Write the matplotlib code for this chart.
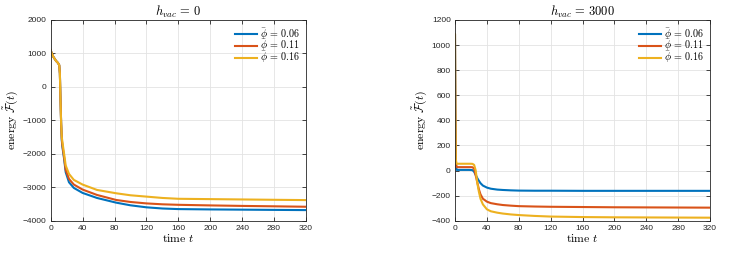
import matplotlib
matplotlib.use("Agg")
import matplotlib.pyplot as plt

plt.rcParams['mathtext.fontset'] = 'cm'
plt.rcParams['font.family'] = ['Liberation Sans', 'DejaVu Sans']

# ---- data: left panel (h_vac = 0)
t_left = [0, 1, 3.3, 6.6, 9, 10.7, 11.5, 12.3, 13.1, 13.9, 14.7, 16.8, 18.8, 22.9,
          29, 40, 58, 82, 100, 120, 140, 160, 200, 240, 280, 320]
e_left_006 = [1100, 1020, 900, 780, 720, 650, 400, -400, -1100, -1600, -1800, -2150,
              -2550, -2850, -3020, -3170, -3320, -3460, -3540, -3600, -3635, -3653,
              -3663, -3670, -3677, -3683]
e_left_011 = [1100, 1020, 900, 780, 720, 650, 400, -400, -1100, -1550, -1750, -2100,
              -2480, -2750, -2920, -3070, -3230, -3380, -3440, -3483, -3510, -3525,
              -3543, -3558, -3570, -3583]
e_left_016 = [1100, 1020, 900, 780, 720, 650, 400, -400, -1100, -1500, -1650, -2000,
              -2350, -2600, -2780, -2920, -3080, -3180, -3240, -3280, -3320, -3345,
              -3355, -3365, -3375, -3384]

# ---- data: right panel (h_vac = 3000)
t_right = [0, 0.4, 1, 2, 10, 18, 20, 22, 24, 26, 28, 30, 32, 35, 40, 45, 53, 60, 70,
           80, 100, 120, 160, 200, 240, 280, 320]
e_right_006 = [1080, 500, 60, 5, 5, 5, 4, 3, -10, -35, -61, -82, -101, -120, -136,
               -145, -152, -155, -158, -160, -161, -161, -162, -162, -162, -162, -162]
e_right_011 = [1080, 500, 70, 27, 27, 27, 27, 26, 15, -40, -95, -150, -190, -225,
               -248, -260, -269, -275, -280, -284, -287, -289, -291, -293, -294, -295, -296]
e_right_016 = [1087, 500, 90, 54, 54, 54, 54, 53, 45, 0, -100, -170, -225, -270,
               -309, -325, -336, -343, -350, -355, -362, -367, -371, -373, -374, -375, -376]

labels = [r'$\bar{\phi}\,=\,0.06$', r'$\bar{\phi}\,=\,0.11$', r'$\bar{\phi}\,=\,0.16$']
colors = ['#0072BD', '#D95319', '#EDB120']
xticks = [0, 40, 80, 120, 160, 200, 240, 280, 320]
yticks_left = [-4000, -3000, -2000, -1000, 0, 1000, 2000]
yticks_right = [-400, -200, 0, 200, 400, 600, 800, 1000, 1200]
titles = [r'$h_{vac}\,=\,0$', r'$h_{vac}\,=\,3000$']

fig = plt.figure(figsize=(7.42, 2.59), dpi=100)
ax1 = fig.add_axes([50.7 / 742, 1 - 220.7 / 259, 255.3 / 742, 200.7 / 259])
ax2 = fig.add_axes([455 / 742, 1 - 220.7 / 259, 255 / 742, 200.7 / 259])

panels = [
    (ax1, t_left, [e_left_006, e_left_011, e_left_016], yticks_left, titles[0]),
    (ax2, t_right, [e_right_006, e_right_011, e_right_016], yticks_right, titles[1]),
]

for ax, t, series, yt, title in panels:
    for vals, c, lab in zip(series, colors, labels):
        ax.plot(t, vals, color=c, lw=1.5, label=lab)
    ax.set_xlim(0, 320)
    ax.set_ylim(yt[0], yt[-1])
    ax.set_xticks(xticks)
    ax.set_yticks(yt)
    ax.grid(True, color='#e3e3e3', lw=0.6)
    ax.set_axisbelow(True)
    ax.tick_params(direction='in', length=3, width=0.6, top=True, right=True,
                   labelsize=6, colors='#262626', pad=3)
    for s in ax.spines.values():
        s.set_linewidth(0.6)
        s.set_color('#262626')
    ax.set_title(title, fontsize=9, pad=3)
    ax.set_xlabel(r'$\mathrm{time}\ t$', fontsize=8.5, labelpad=1)
    ax.set_ylabel(r'$\mathrm{energy}\ \tilde{\mathcal{F}}(t)$', fontsize=8.5, labelpad=2)
    ax.legend(loc='upper right', frameon=False, fontsize=7.3, handlelength=2.2,
              handletextpad=0.3, labelspacing=-0.38, borderaxespad=0.2)

fig.savefig('out.png', dpi=100)
